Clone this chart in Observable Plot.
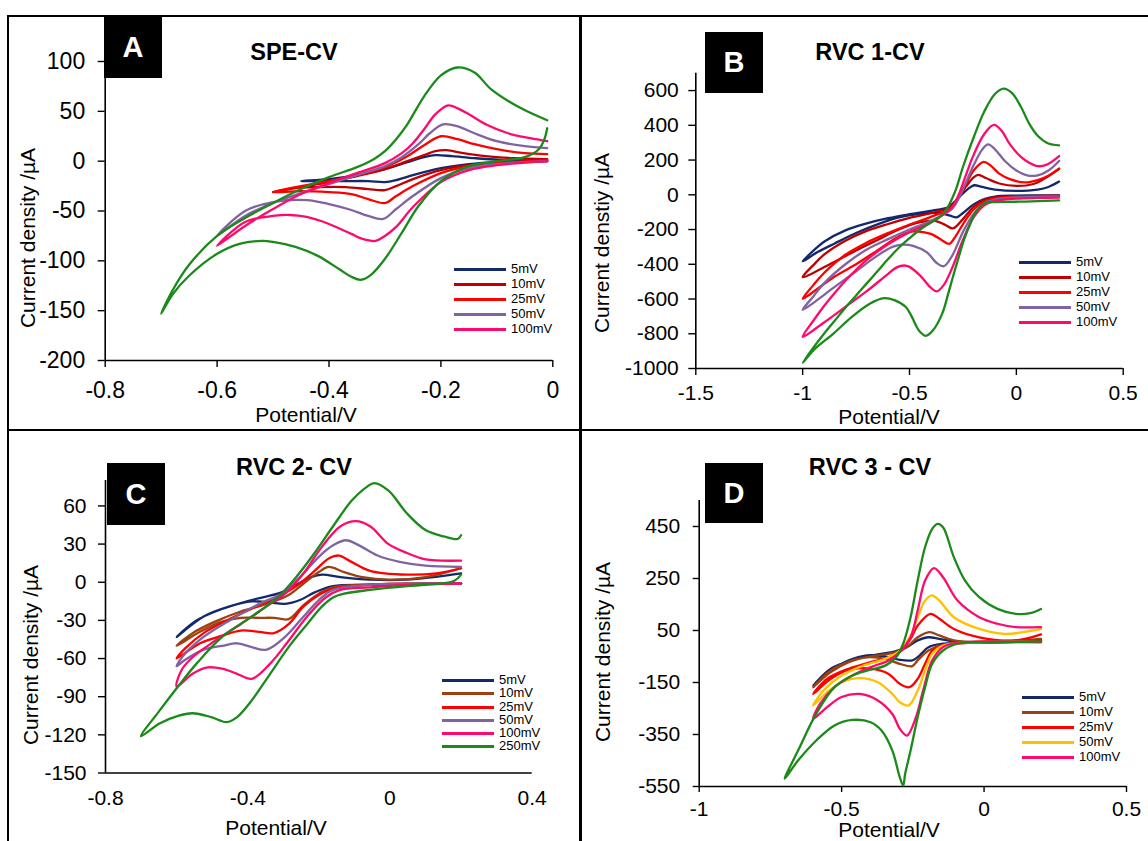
<!DOCTYPE html>
<html><head><meta charset="utf-8">
<script src="https://cdn.jsdelivr.net/npm/d3@7"></script>
<script src="https://cdn.jsdelivr.net/npm/@observablehq/plot@0.6"></script>
<style>
body{margin:0;background:#fff;font-family:"Liberation Sans",Arial,sans-serif;}
#page{position:relative;width:1148px;height:841px;overflow:hidden;background:#fff;}
.abs{position:absolute;}
.svgw{position:absolute;}
.ylab{position:absolute;transform:translate(-50%,-50%) rotate(-90deg);white-space:nowrap;color:#000;font-size:21px;}
.xlab{position:absolute;transform:translate(-50%,-50%);white-space:nowrap;color:#000;font-size:21px;line-height:0.9;}
.title{position:absolute;transform:translate(-50%,-50%);white-space:nowrap;font-weight:bold;font-size:23.5px;color:#000;}
.box{position:absolute;background:#000;color:#fff;font-weight:bold;font-size:29px;display:flex;align-items:center;justify-content:center;}
.line{position:absolute;background:#000;}
.leg{position:absolute;font-size:13px;color:#000;white-space:nowrap;}
</style>
</head><body><div id="page"></div>
<script>
// ---------- tick values ----------
const A_xTicks = [-0.8, -0.6, -0.4, -0.2, 0];
const A_yTicks = [-200, -150, -100, -50, 0, 50, 100];
const B_xTicks = [-1.5, -1, -0.5, 0, 0.5];
const B_yTicks = [-1000, -800, -600, -400, -200, 0, 200, 400, 600];
const C_xTicks = [-0.8, -0.4, 0, 0.4];
const C_yTicks = [-150, -120, -90, -60, -30, 0, 30, 60];
const D_xTicks = [-1, -0.5, 0, 0.5];
const D_yTicks = [-550, -350, -150, 50, 250, 450];

// ---------- Panel A (SPE-CV) : [potential V, current µA], scan order ----------
const A_5mV = [[-0.01,0],[-0.1,-1],[-0.15,-3],[-0.2,-7],[-0.25,-14],[-0.28,-19],[-0.3,-21],[-0.33,-20],[-0.37,-20],[-0.41,-20],[-0.45,-20],
  [-0.4,-18],[-0.35,-14],[-0.3,-8],[-0.26,-1],[-0.23,4],[-0.21,6],[-0.18,5],[-0.14,3],[-0.08,1],[-0.01,1]];
const A_10mV = [[-0.01,0],[-0.1,-2],[-0.15,-4],[-0.2,-9],[-0.25,-18],[-0.28,-25],[-0.3,-29],[-0.33,-28],[-0.37,-26],[-0.42,-26],[-0.46,-27],[-0.5,-31],
  [-0.45,-26],[-0.4,-21],[-0.35,-15],[-0.3,-8],[-0.26,0],[-0.23,6],[-0.21,10],[-0.19,11],[-0.16,8],[-0.12,5],[-0.07,3],[-0.01,2]];
const A_25mV = [[-0.01,1],[-0.1,-2],[-0.15,-5],[-0.2,-12],[-0.25,-25],[-0.28,-35],[-0.3,-42],[-0.33,-38],[-0.36,-33],[-0.4,-31],[-0.45,-30],[-0.5,-31],
  [-0.45,-25],[-0.4,-20],[-0.35,-14],[-0.3,-6],[-0.26,5],[-0.23,16],[-0.2,25],[-0.17,22],[-0.14,17],[-0.1,12],[-0.05,8],[-0.01,7]];
const A_50mV = [[-0.01,0],[-0.1,-3],[-0.15,-7],[-0.2,-17],[-0.25,-35],[-0.28,-48],[-0.303,-58],[-0.33,-55],[-0.36,-49],[-0.4,-43],[-0.44,-39],[-0.5,-41],[-0.55,-50],[-0.6,-75],
  [-0.55,-55],[-0.5,-42],[-0.45,-32],[-0.4,-23],[-0.35,-14],[-0.3,-5],[-0.27,4],[-0.24,17],[-0.22,28],[-0.196,37],[-0.17,35],[-0.14,28],[-0.1,20],[-0.05,15],[-0.01,13]];
const A_100mV = [[-0.01,0],[-0.1,-4],[-0.15,-9],[-0.2,-21],[-0.25,-46],[-0.28,-66],[-0.3,-75],[-0.317,-80],[-0.34,-78],[-0.36,-73],[-0.4,-63],[-0.44,-56],[-0.47,-54],[-0.5,-55],[-0.55,-61],[-0.6,-85],
  [-0.55,-65],[-0.5,-48],[-0.45,-33],[-0.4,-22],[-0.35,-12],[-0.3,-2],[-0.27,8],[-0.25,18],[-0.23,32],[-0.21,47],[-0.187,56],[-0.17,53],[-0.15,47],[-0.12,37],[-0.08,28],[-0.04,23],[-0.01,20]];
const A_green = [[-0.01,33],[-0.015,22],[-0.025,12],[-0.05,4],[-0.1,0],[-0.15,-5],[-0.2,-20],[-0.24,-45],[-0.27,-72],[-0.3,-98],[-0.325,-114],[-0.343,-119],[-0.36,-116],[-0.38,-109],[-0.42,-95],[-0.46,-86],[-0.5,-81],[-0.52,-80],[-0.56,-83],[-0.6,-93],[-0.65,-115],[-0.68,-134],[-0.7,-153],
  [-0.68,-130],[-0.65,-104],[-0.6,-75],[-0.55,-57],[-0.5,-42],[-0.45,-28],[-0.4,-16],[-0.35,-6],[-0.32,2],[-0.3,10],[-0.28,22],[-0.26,37],[-0.23,65],[-0.2,86],[-0.171,94],[-0.14,89],[-0.11,72],[-0.06,54],[-0.01,41]];

// ---------- Panel B (RVC 1-CV) ----------
const B_5mV = [[0.2,-3],[0.1,-4],[0,-5],[-0.1,-10],[-0.15,-25],[-0.2,-55],[-0.25,-105],[-0.28,-130],[-0.31,-120],[-0.36,-105],[-0.45,-110],[-0.55,-130],[-0.65,-170],[-0.75,-220],[-0.85,-280],[-0.93,-330],[-1,-383],
  [-0.97,-345],[-0.93,-300],[-0.9,-270],[-0.8,-205],[-0.7,-165],[-0.6,-135],[-0.5,-112],[-0.4,-92],[-0.32,-72],[-0.28,-30],[-0.24,20],[-0.21,48],[-0.195,55],[-0.16,45],[-0.1,30],[0,22],[0.1,30],[0.15,45],[0.2,76]];
const B_10mV = [[0.2,-5],[0,-8],[-0.1,-15],[-0.15,-30],[-0.2,-70],[-0.25,-140],[-0.297,-193],[-0.33,-175],[-0.38,-150],[-0.45,-158],[-0.55,-200],[-0.65,-260],[-0.75,-320],[-0.85,-385],[-1,-474],
  [-0.95,-405],[-0.9,-345],[-0.8,-265],[-0.7,-208],[-0.6,-168],[-0.5,-133],[-0.4,-106],[-0.32,-76],[-0.28,-30],[-0.24,40],[-0.2,100],[-0.178,115],[-0.14,95],[-0.08,65],[0,51],[0.08,62],[0.14,100],[0.2,150]];
const B_25mV = [[0.2,-8],[0,-12],[-0.1,-22],[-0.15,-40],[-0.2,-85],[-0.25,-170],[-0.29,-250],[-0.314,-283],[-0.35,-260],[-0.4,-225],[-0.483,-211],[-0.55,-240],[-0.65,-320],[-0.75,-400],[-0.85,-470],[-1,-598],
  [-0.95,-520],[-0.9,-450],[-0.8,-345],[-0.7,-275],[-0.6,-220],[-0.5,-172],[-0.4,-127],[-0.3,-72],[-0.27,-20],[-0.24,50],[-0.2,140],[-0.153,190],[-0.12,168],[-0.08,122],[-0.03,90],[0.04,71],[0.1,85],[0.15,110],[0.2,150]];
const B_50mV = [[0.2,-10],[0.1,-12],[0,-15],[-0.1,-28],[-0.15,-50],[-0.2,-110],[-0.25,-215],[-0.3,-350],[-0.339,-411],[-0.37,-395],[-0.42,-330],[-0.48,-295],[-0.534,-287],[-0.58,-300],[-0.65,-350],[-0.75,-440],[-0.85,-530],[-1,-662],
  [-0.95,-585],[-0.9,-510],[-0.8,-400],[-0.7,-315],[-0.6,-255],[-0.5,-200],[-0.4,-150],[-0.3,-80],[-0.27,-20],[-0.24,60],[-0.2,170],[-0.16,260],[-0.132,290],[-0.1,262],[-0.05,190],[0,140],[0.05,112],[0.1,112],[0.15,140],[0.2,195]];
const B_100mV = [[0.2,-16],[0.1,-18],[0,-22],[-0.1,-35],[-0.15,-60],[-0.2,-130],[-0.25,-260],[-0.3,-420],[-0.34,-520],[-0.373,-556],[-0.4,-535],[-0.45,-465],[-0.5,-415],[-0.525,-407],[-0.56,-418],[-0.6,-455],[-0.7,-555],[-0.8,-645],[-0.9,-735],[-1,-818],
  [-0.95,-725],[-0.9,-640],[-0.85,-565],[-0.8,-495],[-0.7,-375],[-0.6,-285],[-0.5,-215],[-0.4,-160],[-0.35,-120],[-0.3,-70],[-0.27,0],[-0.24,100],[-0.2,230],[-0.15,350],[-0.105,402],[-0.07,370],[-0.03,290],[0.02,220],[0.06,185],[0.1,165],[0.14,172],[0.2,223]];
const B_green = [[0.2,-32],[0.1,-37],[0,-40],[-0.1,-42],[-0.144,-45],[-0.17,-70],[-0.195,-110],[-0.22,-180],[-0.246,-263],[-0.27,-360],[-0.297,-473],[-0.32,-575],[-0.347,-684],[-0.39,-780],[-0.424,-812],[-0.45,-790],[-0.466,-761],[-0.49,-700],[-0.517,-646],[-0.568,-608],[-0.619,-595],[-0.686,-627],[-0.771,-704],[-0.856,-799],[-0.941,-885],[-1,-967],
  [-0.95,-880],[-0.9,-800],[-0.85,-725],[-0.8,-650],[-0.75,-580],[-0.7,-510],[-0.65,-440],[-0.6,-370],[-0.55,-305],[-0.5,-250],[-0.45,-200],[-0.4,-160],[-0.35,-120],[-0.32,-70],[-0.3,-20],[-0.28,40],[-0.25,160],[-0.2,330],[-0.15,480],[-0.1,580],[-0.059,611],[-0.02,585],[0.02,510],[0.06,410],[0.1,340],[0.15,295],[0.2,285]];

// ---------- Panel C (RVC 2- CV) ----------
const C_5mV = [[0.2,-1],[-0.056,-2],[-0.16,-3],[-0.212,-8],[-0.253,-14],[-0.295,-17],[-0.337,-16],[-0.389,-15],[-0.451,-19],[-0.524,-27],[-0.6,-43],
  [-0.544,-30],[-0.472,-21],[-0.389,-14],[-0.305,-8],[-0.264,-2],[-0.222,4],[-0.191,6],[-0.139,4],[-0.056,2],[0.048,2],[0.2,7]];
const C_10mV = [[0.2,-1],[-0.16,-4],[-0.2,-9],[-0.243,-18],[-0.285,-29],[-0.326,-28],[-0.368,-28],[-0.42,-28],[-0.472,-31],[-0.534,-39],[-0.6,-50],
  [-0.555,-40],[-0.492,-31],[-0.42,-23],[-0.347,-17],[-0.285,-10],[-0.243,-1],[-0.2,8],[-0.173,12],[-0.129,8],[-0.077,4],[-0.004,2],[0.1,4],[0.2,11]];
const C_25mV = [[0.2,-1],[-0.056,-2],[-0.16,-5],[-0.2,-10],[-0.243,-19],[-0.285,-33],[-0.326,-40],[-0.368,-39],[-0.42,-38],[-0.472,-42],[-0.534,-48],[-0.6,-60],
  [-0.576,-52],[-0.524,-40],[-0.451,-29],[-0.368,-18],[-0.305,-10],[-0.253,-1],[-0.212,9],[-0.17,19],[-0.144,21],[-0.108,16],[-0.056,9],[0.048,6],[0.131,7],[0.2,11]];
const C_50mV = [[0.2,-1],[-0.056,-2],[-0.16,-6],[-0.2,-14],[-0.243,-27],[-0.295,-43],[-0.347,-53],[-0.389,-51],[-0.43,-48],[-0.472,-50],[-0.524,-53],[-0.576,-61],[-0.6,-66],
  [-0.576,-56],[-0.524,-43],[-0.451,-30],[-0.368,-17],[-0.305,-9],[-0.253,4],[-0.2,20],[-0.16,29],[-0.124,33],[-0.087,29],[-0.035,21],[0.027,16],[0.1,13],[0.2,12]];
const C_100mV = [[0.2,-1],[0.048,-2],[-0.056,-4],[-0.14,-6],[-0.181,-12],[-0.233,-27],[-0.285,-46],[-0.337,-64],[-0.389,-76],[-0.43,-72],[-0.472,-68],[-0.513,-67],[-0.555,-72],[-0.6,-82],
  [-0.586,-69],[-0.555,-59],[-0.492,-46],[-0.42,-33],[-0.347,-19],[-0.295,-9],[-0.243,7],[-0.191,28],[-0.139,44],[-0.096,48],[-0.056,44],[-0.004,30],[0.048,23],[0.1,18],[0.2,17]];
const C_250mV = [[0.2,6],[0.18,1],[0.1,-2],[0.048,-3],[-0.056,-6],[-0.129,-9],[-0.16,-12],[-0.191,-19],[-0.233,-33],[-0.285,-51],[-0.337,-72],[-0.389,-93],[-0.43,-106],[-0.459,-110],[-0.503,-106],[-0.555,-103],[-0.596,-105],[-0.648,-111],[-0.7,-121],
  [-0.648,-101],[-0.596,-82],[-0.544,-64],[-0.472,-43],[-0.389,-27],[-0.316,-12],[-0.264,4],[-0.212,23],[-0.16,44],[-0.108,64],[-0.065,75],[-0.044,78],[-0.004,72],[0.048,54],[0.1,41],[0.152,36],[0.19,34],[0.2,37]];

// ---------- Panel D (RVC 3 - CV) ----------
const D_5mV = [[0.2,5],[-0.144,-1],[-0.195,-14],[-0.233,-53],[-0.252,-65],[-0.296,-63],[-0.347,-50],[-0.411,-46],[-0.475,-65],[-0.538,-104],[-0.6,-162],
  [-0.538,-97],[-0.462,-63],[-0.373,-42],[-0.309,-29],[-0.271,-14],[-0.233,12],[-0.197,24],[-0.157,18],[-0.106,8],[-0.017,4],[0.2,8]];
const D_10mV = [[0.2,12],[-0.144,-5],[-0.195,-27],[-0.233,-65],[-0.252,-87],[-0.296,-78],[-0.347,-59],[-0.411,-53],[-0.475,-72],[-0.538,-110],[-0.6,-168],
  [-0.538,-104],[-0.462,-65],[-0.373,-46],[-0.309,-33],[-0.271,-14],[-0.233,24],[-0.192,44],[-0.157,31],[-0.106,12],[-0.017,5],[0.2,18]];
const D_25mV = [[0.2,12],[-0.144,-8],[-0.182,-27],[-0.207,-78],[-0.233,-136],[-0.262,-168],[-0.296,-155],[-0.335,-117],[-0.398,-97],[-0.475,-101],[-0.538,-136],[-0.6,-194],
  [-0.551,-136],[-0.475,-97],[-0.398,-72],[-0.335,-53],[-0.29,-27],[-0.258,18],[-0.233,69],[-0.188,114],[-0.157,95],[-0.106,56],[-0.017,24],[0.111,12],[0.2,35]];
const D_50mV = [[0.2,5],[-0.144,-8],[-0.182,-40],[-0.207,-104],[-0.233,-181],[-0.265,-238],[-0.296,-226],[-0.322,-194],[-0.373,-149],[-0.436,-133],[-0.5,-149],[-0.551,-187],[-0.6,-238],
  [-0.564,-181],[-0.5,-123],[-0.424,-85],[-0.347,-59],[-0.296,-27],[-0.258,31],[-0.233,101],[-0.207,165],[-0.184,185],[-0.157,165],[-0.106,101],[-0.017,56],[0.073,37],[0.2,56]];
const D_100mV = [[0.2,5],[-0.093,3],[-0.144,-14],[-0.182,-65],[-0.214,-181],[-0.239,-283],[-0.271,-354],[-0.296,-328],[-0.322,-271],[-0.373,-219],[-0.436,-194],[-0.5,-206],[-0.551,-245],[-0.6,-290],
  [-0.576,-232],[-0.525,-168],[-0.462,-123],[-0.398,-91],[-0.335,-65],[-0.296,-33],[-0.258,24],[-0.233,127],[-0.207,242],[-0.176,290],[-0.144,255],[-0.093,165],[-0.017,101],[0.047,76],[0.111,63],[0.2,63]];
const D_green = [[0.2,8],[0.1,6],[-0.017,5],[-0.093,-1],[-0.144,-27],[-0.182,-78],[-0.207,-168],[-0.233,-283],[-0.258,-412],[-0.277,-501],[-0.284,-546],[-0.296,-514],[-0.322,-412],[-0.36,-335],[-0.398,-303],[-0.462,-294],[-0.525,-315],[-0.589,-373],[-0.653,-450],[-0.7,-520],
  [-0.653,-412],[-0.589,-270],[-0.525,-168],[-0.462,-123],[-0.398,-101],[-0.347,-85],[-0.309,-53],[-0.284,-1],[-0.258,101],[-0.233,242],[-0.207,371],[-0.182,441],[-0.163,460],[-0.144,447],[-0.106,332],[-0.067,242],[-0.017,178],[0.047,133],[0.111,114],[0.162,117],[0.2,133]];

// ---------- colours / labels ----------
const NAVY = "#13296b", DKRED = "#c00000", BROWN = "#9c4210", RED = "#ff0000", PURPLE = "#8064a2", GOLD = "#ffc000", PINK = "#ff0a6c", GREEN = "#1a8a1a";

const page = document.getElementById("page");
function add(cls, style, text) {
  const d = document.createElement("div");
  d.className = cls;
  Object.assign(d.style, style);
  if (text != null) d.textContent = text;
  page.appendChild(d);
  return d;
}

function panel(p) {
  const marks = [
    Plot.ruleY([p.yDomain[0]], {stroke: "#000", strokeWidth: 1.6}),
    Plot.ruleX([p.xDomain[0]], {stroke: "#000", strokeWidth: 1.6}),
    Plot.axisX({ticks: p.xTicks, tickSize: p.xTickSize, tickPadding: p.xPad, tickFormat: d => String(d), label: null, fontSize: p.font, strokeWidth: 1.4}),
    Plot.axisY({ticks: p.yTicks, tickSize: p.yTickSize, tickPadding: p.yPad, tickFormat: d => String(d), label: null, fontSize: p.font, strokeWidth: 1.4})
  ];
  for (const s of p.series) {
    marks.push(Plot.line(s.pts, {x: d => d[0], y: d => d[1], stroke: s.color, strokeWidth: 2.3, curve: "catmull-rom"}));
  }
  const svg = Plot.plot({
    width: p.W, height: p.H,
    marginLeft: p.ml, marginRight: p.mr, marginTop: p.mt, marginBottom: p.mb,
    x: {domain: p.xDomain}, y: {domain: p.yDomain},
    style: {fontFamily: '"Liberation Sans", Arial, sans-serif', color: "#000", background: "transparent", overflow: "visible"},
    marks
  });
  const w = document.createElement("div");
  w.className = "svgw";
  w.style.left = p.left + "px"; w.style.top = p.top + "px";
  w.appendChild(svg);
  page.appendChild(w);
}

panel({left: 0, top: 0, W: 580, H: 430, ml: 104.7, mr: 27.7, mt: 61, mb: 70,
  xDomain: [-0.8, 0], yDomain: [-200, 100], xTicks: A_xTicks, yTicks: A_yTicks, font: 23,
  xTickSize: 7, xPad: 14, yTickSize: 7, yPad: 13,
  series: [{pts: A_5mV, color: NAVY}, {pts: A_10mV, color: DKRED}, {pts: A_25mV, color: RED}, {pts: A_50mV, color: PURPLE}, {pts: A_100mV, color: PINK}, {pts: A_green, color: GREEN}]});
panel({left: 580, top: 0, W: 568, H: 430, ml: 115.3, mr: 25.3, mt: 72.7, mb: 62,
  xDomain: [-1.5, 0.5], yDomain: [-1000, 700], xTicks: B_xTicks, yTicks: B_yTicks, font: 21,
  xTickSize: 7, xPad: 10, yTickSize: 7, yPad: 10,
  series: [{pts: B_5mV, color: NAVY}, {pts: B_10mV, color: DKRED}, {pts: B_25mV, color: RED}, {pts: B_50mV, color: PURPLE}, {pts: B_100mV, color: PINK}, {pts: B_green, color: GREEN}]});
panel({left: 0, top: 430, W: 580, H: 411, ml: 105, mr: 48.3, mt: 50, mb: 68.5,
  xDomain: [-0.8, 0.4], yDomain: [-150, 80], xTicks: C_xTicks, yTicks: C_yTicks, font: 21,
  xTickSize: 0, xPad: 17, yTickSize: 7, yPad: 12,
  series: [{pts: C_5mV, color: NAVY}, {pts: C_10mV, color: BROWN}, {pts: C_25mV, color: RED}, {pts: C_50mV, color: PURPLE}, {pts: C_100mV, color: PINK}, {pts: C_250mV, color: GREEN}]});
panel({left: 580, top: 430, W: 568, H: 411, ml: 118.7, mr: 22, mt: 70, mb: 55,
  xDomain: [-1, 0.5], yDomain: [-550, 550], xTicks: D_xTicks, yTicks: D_yTicks, font: 21,
  xTickSize: 6, xPad: 9, yTickSize: 6, yPad: 13,
  series: [{pts: D_5mV, color: NAVY}, {pts: D_10mV, color: BROWN}, {pts: D_25mV, color: RED}, {pts: D_50mV, color: GOLD}, {pts: D_100mV, color: PINK}, {pts: D_green, color: GREEN}]});

// ---------- panel frames ----------
add("line", {left: "7px", top: "15px", width: "1141px", height: "2px"});
add("line", {left: "7px", top: "429px", width: "1141px", height: "2px"});
add("line", {left: "7px", top: "15px", width: "2px", height: "826px"});
add("line", {left: "579px", top: "15px", width: "3px", height: "826px"});

// ---------- letter boxes and titles ----------
add("box", {left: "104px", top: "16px", width: "58px", height: "62px"}, "A");
add("box", {left: "705px", top: "32px", width: "58px", height: "61px"}, "B");
add("box", {left: "107px", top: "463px", width: "58px", height: "62px"}, "C");
add("box", {left: "705px", top: "463px", width: "58px", height: "60px"}, "D");
add("title", {left: "294px", top: "52px"}, "SPE-CV");
add("title", {left: "870px", top: "52px"}, "RVC 1-CV");
add("title", {left: "294px", top: "467px"}, "RVC 2- CV");
add("title", {left: "870px", top: "467px"}, "RVC 3 - CV");

// ---------- axis titles ----------
add("xlab", {left: "306px", top: "415px"}, "Potential/V");
add("xlab", {left: "889px", top: "417px"}, "Potential/V");
add("xlab", {left: "276px", top: "828px"}, "Potential/V");
add("xlab", {left: "889px", top: "830px"}, "Potential/V");
add("ylab", {left: "28px", top: "238px"}, "Current density /µA");
add("ylab", {left: "602px", top: "243px"}, "Current denstiy /µA");
add("ylab", {left: "31px", top: "655px"}, "Current density /µA");
add("ylab", {left: "603px", top: "652px"}, "Current density /µA");

// ---------- legends ----------
function legend(x0, x1, tx, ys, names, colors) {
  names.forEach((n, i) => {
    add("abs", {left: x0 + "px", top: (ys[i] - 1.5) + "px", width: (x1 - x0) + "px", height: "3px", background: colors[i]});
    add("leg", {left: tx + "px", top: (ys[i] - 8) + "px"}, n);
  });
}
const legNames5 = ["5mV", "10mV", "25mV", "50mV", "100mV"];
legend(454, 506, 511, [269, 284, 299, 314, 329], legNames5, [NAVY, DKRED, RED, PURPLE, PINK]);
legend(1019, 1071, 1076, [262, 277, 292, 307, 322], legNames5, [NAVY, DKRED, RED, PURPLE, PINK]);
legend(442, 494, 499, [680, 693, 707, 720, 733, 746], ["5mV", "10mV", "25mV", "50mV", "100mV", "250mV"], [NAVY, BROWN, RED, PURPLE, PINK, GREEN]);
legend(1022, 1074, 1079, [697, 712, 727, 742, 757], legNames5, [NAVY, BROWN, RED, GOLD, PINK]);
</script>
</body></html>
